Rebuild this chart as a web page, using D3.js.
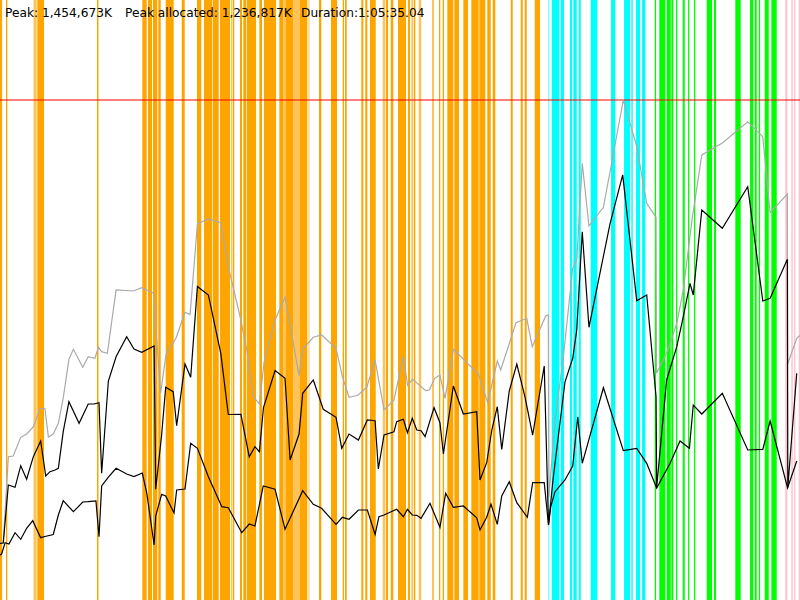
<!DOCTYPE html>
<html>
<head>
<meta charset="utf-8">
<script src="https://cdn.jsdelivr.net/npm/d3@7"></script>
<style>
  html, body { margin: 0; padding: 0; background: #fff; }
  svg { display: block; }
</style>
</head>
<body>
<svg id="chart" width="800" height="600"></svg>
<script>
// ---- summary values (K, seconds) ----
const peakK = 1454673;
const peakAllocatedK = 1236817;
const durationSec = 3935.04;

// ---- event spans [start s, end s] ----
const orangeSpans = [
  [0,10],[29.5,35.9],[183.5,216.4],[477.1,484.5],[700.0,721.6],[728.0,747.7],[752.6,773.8],
  [778.7,790.5],[815.1,854.4],[893.8,908.5],[969.0,990.2],[1003.5,1042.8],[1046.3,1075.8],
  [1082.2,1131.4],[1144.6,1152.5],[1180.6,1190.4],[1196.8,1211.5],[1215.0,1259.3],
  [1275.5,1288.8],[1298.6,1357.6],[1373.9,1393.6],[1406.8,1442.8],[1475.7,1511.6],
  [1569.2,1580.5],[1628.2,1657.7],[1685.8,1692.1],[1697.1,1705.4],[1777.2,1787.1],
  [1796.9,1806.8],[1820.0,1848.1],[1898.7,1908.6],[1921.9,1934.7],[1957.8,1997.1],
  [2007.0,2016.8],[2036.5,2042.9],[2159.4,2165.8],[2177.6,2184.0],[2200.3,2229.8],
  [2234.7,2257.8],[2279.0,2302.1],[2318.3,2354.7],[2357.7,2387.2],[2397.0,2413.7],
  [2423.6,2436.4],[2512.1,2521.9],[2561.3,2571.2],[2581.0,2590.8],[2630.2,2656.3]
];
const orangeLightSpans = [
  [164.8,180.5],[1136.3,1141.2],[1393.6,1406.8],[1442.8,1475.7],[1517.5,1520.0],
  [1882.5,1895.3],[2023.2,2033.0],[2059.6,2072.4],[2125.0,2134.8]
];
const cyanSpans = [
  [2713.8,2751.2],[2758.1,2774.3],[2803.8,2813.7],[2820.1,2836.8],[2846.6,2856.5],
  [2905.6,2938.1],[3005.5,3026.6],[3069.5,3099.0],[3105.4,3112.3],[3128.5,3148.2],[3158.0,3174.2]
];
const cyanLightSpans = [[2695.6,2702.0]];
const greenSpans = [
  [3220.5,3226.9],[3243.1,3272.6],[3279.5,3299.2],[3302.1,3312.0],[3325.2,3331.6],
  [3358.2,3368.0],[3384.3,3390.7],[3413.8,3420.2],[3476.3,3502.3],[3512.2,3522.0],
  [3616.9,3643.5],[3689.3,3705.5],[3712.4,3722.2],[3732.1,3738.5],[3761.6,3781.3],[3794.1,3820.7]
];
const pinkSpans = [
  [3862.8,3872.7],[3892.4,3899.3],[3905.7,3912.1],[3928.8,3935.0]
];

// ---- series [time s, MB (thousand K)] ----
const heapSize = [
  [0,165.8],[16,165.8],[41,416.9],[65,418.9],[102,473.3],[131,482.9],[164,504.2],[197,557.1],
  [221,557.1],[238,474.2],[262,482.9],[287,514.1],[311,587.7],[339,700.3],[361,729.4],[407,677.0],
  [434,707.8],[467,703.2],[484,735.2],[500,722.4],[528,717.7],[571,901.9],[656,899.0],[697,908.6],
  [738,896.9],[754,894.0],[790,602.2],[817,714.8],[866,762.2],[910,837.0],[935,830.6],[971,1093.9],
  [1025,1108.5],[1086,1097.7],[1123,969.7],[1181,824.2],[1214,727.3],[1246,591.5],[1276,570.2],
  [1299,692.4],[1353,814.6],[1402,881.5],[1471,652.6],[1489,729.4],[1541,764.3],[1582,771.0],
  [1653,732.3],[1684,649.7],[1717,589.7],[1760,595.5],[1804,618.8],[1845,698.2],[1889,552.8],
  [1938,581.9],[1984,707.8],[2005,624.6],[2030,642.1],[2094,608.9],[2112,611.0],[2138,645.0],
  [2164,654.6],[2189,586.8],[2230,729.4],[2353,657.5],[2399,574.0],[2446,695.3],[2463,669.2],
  [2538,806.8],[2591,819.6],[2618,736.9],[2684,826.3],[2697,829.2],[2700,300.0],[2730,523.7],
  [2771,707.0],[2817,965.0],[2837,989.2],[2864,1270.5],[2897,1088.1],[2968,1142.5],[3066,1454.7],
  [3132,1318.8],[3181,1154.1],[3227,1113.4],[3229,659.5],[3279,717.7],[3329,805.0],[3361,901.9],
  [3405,1110.5],[3452,1294.7],[3555,1330.5],[3678,1391.5],[3752,1347.9],[3788,1126.8],
  [3873,1181.2],[3874,686.6],[3919,761.4],[3935,770.0]
];
const allocated = [
  [0,165.0],[16,165.8],[41,334.6],[74,327.9],[102,390.7],[131,351.2],[164,416.9],[200,462.6],
  [225,360.8],[246,373.3],[271,378.2],[287,383.2],[311,489.6],[339,576.9],[389,514.1],[434,570.2],
  [462,570.2],[487,574.0],[500,368.6],[533,637.1],[571,707.8],[623,766.0],[659,730.2],[697,720.6],
  [758,739.0],[766,322.1],[795,480.0],[815,618.8],[852,606.0],[869,507.1],[910,686.6],[938,647.9],
  [971,912.1],[1025,887.4],[1086,717.7],[1123,539.7],[1185,540.3],[1226,416.9],[1254,446.0],
  [1276,431.4],[1296,560.0],[1353,667.7],[1402,645.0],[1427,407.3],[1471,482.9],[1489,601.4],
  [1541,640.1],[1590,554.8],[1653,531.5],[1681,441.3],[1717,482.9],[1763,465.5],[1807,523.7],
  [1845,521.6],[1861,381.1],[1889,480.0],[1938,489.6],[1951,518.7],[1984,525.7],[2004,486.7],
  [2028,528.6],[2050,494.6],[2071,492.5],[2091,475.1],[2135,559.5],[2164,515.8],[2181,424.8],
  [2230,622.6],[2279,541.1],[2345,547.8],[2361,349.1],[2394,399.4],[2419,494.6],[2446,562.4],
  [2468,438.4],[2505,608.1],[2542,686.6],[2582,591.5],[2620,480.0],[2677,680.8],[2698,218.2],
  [2720,349.1],[2779,634.2],[2817,703.2],[2837,785.5],[2864,1071.5],[2897,793.4],[3001,1095.9],
  [3063,1236.8],[3132,870.8],[3181,887.4],[3227,591.5],[3230,327.3],[3279,640.1],[3329,736.9],
  [3361,824.2],[3394,921.4],[3410,887.4],[3452,1134.6],[3553,1081.4],[3678,1202.4],[3752,869.9],
  [3788,877.7],[3873,991.2],[3875,327.3],[3919,659.5]
];
const used = [
  [0,130.9],[8,133.8],[25,166.7],[44,162.9],[74,195.8],[102,176.6],[131,208.6],[161,230.7],
  [200,181.3],[221,184.7],[262,190.6],[287,247.3],[311,288.9],[361,256.9],[407,285.1],[434,286.0],
  [472,288.0],[487,184.2],[500,331.7],[533,357.8],[571,383.2],[623,366.6],[659,359.3],[700,369.5],
  [722,311.3],[758,160.0],[766,244.4],[795,307.5],[815,302.6],[856,253.1],[869,320.0],[910,322.9],
  [938,455.9],[971,441.3],[1025,358.7],[1091,271.4],[1123,268.5],[1189,195.8],[1226,221.1],
  [1254,215.3],[1295,331.7],[1353,322.1],[1402,205.7],[1489,318.0],[1541,278.4],[1582,266.8],
  [1653,220.2],[1684,240.6],[1717,234.8],[1763,261.8],[1807,261.8],[1845,191.1],[1864,242.3],
  [1889,247.3],[1951,263.9],[1984,242.3],[2004,263.9],[2028,247.3],[2050,246.4],[2071,237.7],
  [2115,281.3],[2164,211.5],[2192,310.4],[2230,269.7],[2279,273.5],[2345,239.4],[2361,203.7],
  [2394,240.6],[2415,279.3],[2446,220.2],[2468,302.6],[2505,344.2],[2542,283.1],[2594,240.6],
  [2620,341.3],[2677,341.3],[2698,218.2],[2709,271.4],[2730,315.1],[2779,349.1],[2817,389.9],
  [2842,533.3],[2864,397.7],[2968,617.6],[3066,434.4],[3132,441.3],[3181,397.7],[3230,325.8],
  [3296,397.7],[3345,462.6],[3391,441.3],[3410,567.3],[3452,541.1],[3553,601.4],[3678,436.4],
  [3752,438.4],[3788,520.8],[3874,325.8],[3919,404.4]
];

// ---- drawing ----
const W = 800, H = 600;
const svg = d3.select("#chart");
svg.append("rect").attr("width", W).attr("height", H).attr("fill", "#fff");

const x = d3.scaleLinear().domain([0, durationSec]).range([0, W]);
const y = d3.scaleLinear().domain([0, 1.2 * peakK / 1000]).range([H, 0]);

function spans(data, color, opacity) {
  svg.append("g").selectAll("rect").data(data).join("rect")
    .attr("x", d => x(d[0]))
    .attr("width", d => Math.max(1, x(d[1]) - x(d[0])))
    .attr("y", 0).attr("height", H)
    .attr("fill", color).attr("fill-opacity", opacity);
}
spans(orangeSpans, "#ffa500", 1);
spans(orangeLightSpans, "#ffa500", 0.65);
spans(cyanSpans, "#00ffff", 1);
spans(cyanLightSpans, "#00ffff", 0.5);
spans(greenSpans, "#00ff00", 1);
spans(pinkSpans, "#ffc0cb", 1);

// peak line
svg.append("line")
  .attr("x1", 0).attr("x2", W)
  .attr("y1", y(peakK / 1000)).attr("y2", y(peakK / 1000))
  .attr("stroke", "#ff0000").attr("stroke-opacity", 0.5).attr("stroke-width", 2);

const line = d3.line().x(d => x(d[0])).y(d => y(d[1]));
svg.append("path").datum(heapSize).attr("d", line)
  .attr("fill", "none").attr("stroke", "#aaaaaa").attr("stroke-width", 1.2);
svg.append("path").datum(allocated).attr("d", line)
  .attr("fill", "none").attr("stroke", "#000").attr("stroke-width", 1.2);
svg.append("path").datum(used).attr("d", line)
  .attr("fill", "none").attr("stroke", "#000").attr("stroke-width", 1.2);

// header
const fmt = d3.format(",");
function fmtDur(s) {
  const h = Math.floor(s / 3600);
  const m = Math.floor((s % 3600) / 60);
  const sec = s - h * 3600 - m * 60;
  return h + ":" + String(m).padStart(2, "0") + ":" + sec.toFixed(2).padStart(5, "0");
}
const headerTexts = [
  { text: "Peak: " + fmt(peakK) + "K", x: 5 },
  { text: "Peak allocated: " + fmt(peakAllocatedK) + "K", x: 125 },
  { text: "Duration:" + fmtDur(durationSec), x: 301 }
];
svg.append("g").selectAll("text").data(headerTexts).join("text")
  .attr("x", d => d.x).attr("y", 17)
  .attr("font-family", "'DejaVu Sans', sans-serif")
  .attr("font-size", 12.2)
  .attr("fill", "#000")
  .text(d => d.text);
</script>
</body>
</html>
